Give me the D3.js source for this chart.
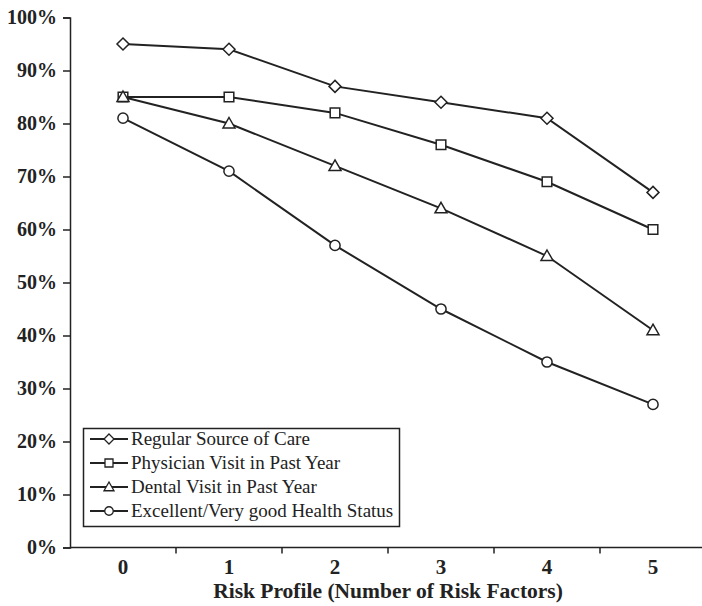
<!DOCTYPE html>
<html>
<head>
<meta charset="utf-8">
<script src="https://cdn.jsdelivr.net/npm/d3@7"></script>
<style>
  body { margin: 0; background: #fff; }
  svg text { font-family: "Liberation Serif", "DejaVu Serif", serif; fill: #222; }
</style>
</head>
<body>
<script>
//Data
const categories = ["0", "1", "2", "3", "4", "5"];
const seriesNames = [
    "Regular Source of Care",
    "Physician Visit in Past Year",
    "Dental Visit in Past Year",
    "Excellent/Very good Health Status"
];
const regularCare = [95, 94, 87, 84, 81, 67];
const physicianVisit = [85, 85, 82, 76, 69, 60];
const dentalVisit = [85, 80, 72, 64, 55, 41];
const healthStatus = [81, 71, 57, 45, 35, 27];
const yTicks = [0, 10, 20, 30, 40, 50, 60, 70, 80, 90, 100];
const symbols = ["diamond", "square", "triangle", "circle"];

const allSeries = [regularCare, physicianVisit, dentalVisit, healthStatus];

//Sizes
const width = 702;
const height = 606;
const plotLeft = 70, plotRight = 706, plotTop = 17.5, plotBottom = 547.5;
const ink = "#222";
const serif = "Liberation Serif, DejaVu Serif, serif";

const svg = d3.select("body")
    .append("svg")
    .attr("width", width)
    .attr("height", height);

//Scales
const xScale = d3.scaleBand()
    .domain(categories)
    .range([plotLeft, plotRight])
    .padding(0);

const yScale = d3.scaleLinear()
    .domain([0, 100])
    .range([plotBottom, plotTop]);

//Axes
const yAxis = svg.append("g")
    .attr("transform", "translate(" + plotLeft + ",0)")
    .call(d3.axisLeft(yScale).tickValues(yTicks).tickSize(7).tickPadding(6).tickFormat(d => d + "%"));
yAxis.attr("font-family", serif);
yAxis.select(".domain").attr("stroke", ink).attr("stroke-width", 1.5);
yAxis.selectAll(".tick line").attr("stroke", ink).attr("stroke-width", 1.5);
yAxis.selectAll("text")
    .attr("font-size", 20)
    .attr("font-weight", "bold")
    .attr("fill", ink)
    .attr("font-family", serif);

//X axis: ticks at band edges, labels at band centers
const xAxis = svg.append("g")
    .attr("transform", "translate(0," + plotBottom + ")");
xAxis.append("line")
    .attr("x1", plotLeft).attr("x2", width)
    .attr("stroke", ink).attr("stroke-width", 1.5);
xAxis.selectAll(".edge")
    .data(categories.slice(1))
    .join("line")
    .attr("class", "edge")
    .attr("x1", d => xScale(d)).attr("x2", d => xScale(d))
    .attr("y1", 0).attr("y2", 6)
    .attr("stroke", ink).attr("stroke-width", 1.5);
xAxis.selectAll(".lbl")
    .data(categories)
    .join("text")
    .attr("class", "lbl")
    .attr("x", d => xScale(d) + xScale.bandwidth() / 2)
    .attr("y", 26)
    .attr("text-anchor", "middle")
    .attr("font-family", serif)
    .attr("font-size", 21)
    .attr("font-weight", "bold")
    .text(d => d);

svg.append("text")
    .attr("x", 388)
    .attr("y", 598)
    .attr("text-anchor", "middle")
    .attr("font-family", serif)
    .attr("font-size", 21.5)
    .attr("font-weight", "bold")
    .text("Risk Profile (Number of Risk Factors)");

//Symbol generator
function symbolPath(kind, s) {
    if (kind === "diamond") {
        return "M0," + (-s) + "L" + s + ",0L0," + s + "L" + (-s) + ",0Z";
    }
    if (kind === "square") {
        const h = s * 0.8;
        return "M" + (-h) + "," + (-h) + "H" + h + "V" + h + "H" + (-h) + "Z";
    }
    if (kind === "triangle") {
        return "M0," + (-s) + "L" + s + "," + (s * 0.75) + "L" + (-s) + "," + (s * 0.75) + "Z";
    }
    return d3.arc()({innerRadius: 0, outerRadius: s * 0.85, startAngle: 0, endAngle: 2 * Math.PI});
}

//Lines
const line = d3.line()
    .x((d, i) => xScale(categories[i]) + xScale.bandwidth() / 2)
    .y(d => yScale(d));

allSeries.forEach((values, k) => {
    svg.append("path")
        .datum(values)
        .attr("d", line)
        .attr("fill", "none")
        .attr("stroke", ink)
        .attr("stroke-width", 2);
});

allSeries.forEach((values, k) => {
    svg.selectAll(".m" + k)
        .data(values)
        .join("path")
        .attr("class", "m" + k)
        .attr("transform", (d, i) => "translate(" + (xScale(categories[i]) + xScale.bandwidth() / 2) + "," + yScale(d) + ")")
        .attr("d", symbolPath(symbols[k], 6))
        .attr("fill", "#fff")
        .attr("stroke", ink)
        .attr("stroke-width", 1.5);
});

//Legend
const legend = svg.append("g");
legend.append("rect")
    .attr("x", 83.5).attr("y", 428.5)
    .attr("width", 316).attr("height", 98)
    .attr("fill", "#fff")
    .attr("stroke", ink)
    .attr("stroke-width", 1.5);

seriesNames.forEach((name, k) => {
    const y = 439 + k * 24;
    legend.append("line")
        .attr("x1", 90).attr("x2", 128)
        .attr("y1", y).attr("y2", y)
        .attr("stroke", ink).attr("stroke-width", 2);
    legend.append("path")
        .attr("transform", "translate(109," + y + ")")
        .attr("d", symbolPath(symbols[k], 5))
        .attr("fill", "#fff")
        .attr("stroke", ink)
        .attr("stroke-width", 1.3);
    legend.append("text")
        .attr("x", 131)
        .attr("y", y + 6)
        .attr("font-family", serif)
        .attr("font-size", 19)
        .text(name);
});
</script>
</body>
</html>
